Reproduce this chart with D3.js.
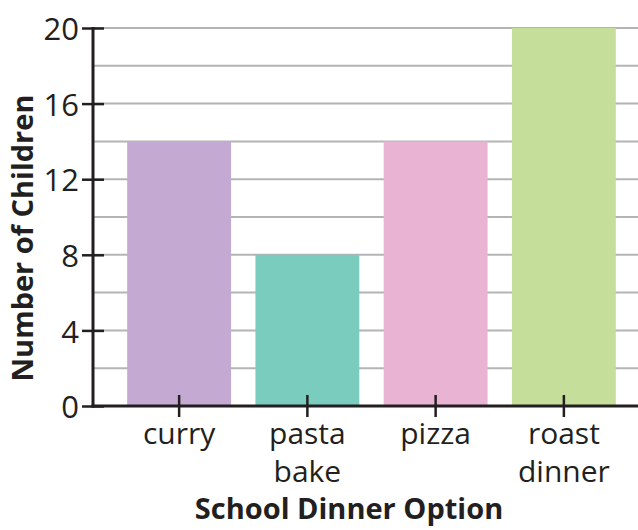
<!DOCTYPE html>
<html><head><meta charset="utf-8">
<script src="https://cdn.jsdelivr.net/npm/d3@7"></script>
<style>body{margin:0;background:#fff}svg{display:block}</style>
</head><body>
<script>
const categories = ["curry", "pasta bake", "pizza", "roast dinner"];
const values = [14, 8, 14, 20];
const colors = ["#c4aad2", "#7accbe", "#e9b3d3", "#c5df9b"];
const yTicks = [0, 4, 8, 12, 16, 20];
const gridValues = [2, 4, 6, 8, 10, 12, 14, 16, 18, 20];

(function () {
const W = 638, H = 530;
const mLeft = 93, mRight = 638, mTop = 28, mBottom = 406;
const svg = d3.select("body").append("svg").attr("width", W).attr("height", H);

const y = d3.scaleLinear().domain([0, 20]).range([mBottom, mTop]);
const x = d3.scaleBand().domain(categories).range([115, 628]).paddingInner(0.19).paddingOuter(0.095);

const font = "'Open Sans', sans-serif";
const ink = "#231f20";

// gridlines
svg.append("g").selectAll("line").data(gridValues).join("line")
  .attr("x1", mLeft).attr("x2", mRight)
  .attr("y1", d => y(d)).attr("y2", d => y(d))
  .attr("stroke", "#b4b4b6").attr("stroke-width", 2);

// bars
svg.append("g").selectAll("rect").data(categories).join("rect")
  .attr("x", d => x(d)).attr("width", x.bandwidth())
  .attr("y", (d, i) => y(values[i])).attr("height", (d, i) => y(0) - y(values[i]))
  .attr("fill", (d, i) => colors[i]);

// y axis
const yAxis = svg.append("g").attr("transform", `translate(${mLeft},0)`)
  .call(d3.axisLeft(y).tickValues(yTicks).tickSize(0).tickPadding(14));
yAxis.select(".domain").remove();
yAxis.selectAll(".tick line").remove();
yAxis.selectAll(".tick").append("line")
  .attr("x1", -11).attr("x2", 11).attr("stroke", ink).attr("stroke-width", 2.5);
yAxis.selectAll(".tick text").attr("font-family", font).attr("font-size", 31)
  .attr("fill", ink).attr("dy", "0.38em");
svg.append("line").attr("x1", mLeft).attr("x2", mLeft).attr("y1", mTop - 1).attr("y2", mBottom + 1.5)
  .attr("stroke", ink).attr("stroke-width", 3);

// x axis
const xAxis = svg.append("g").attr("transform", `translate(0,${mBottom})`)
  .call(d3.axisBottom(x).tickSize(0).tickFormat(""));
xAxis.select(".domain").remove();
xAxis.selectAll(".tick line").remove();
xAxis.selectAll(".tick").append("line")
  .attr("y1", -11).attr("y2", 11).attr("stroke", ink).attr("stroke-width", 2.5);
xAxis.selectAll(".tick").each(function(d) {
  const words = d.split(" ");
  const t = d3.select(this).append("text")
    .attr("font-family", font).attr("font-size", 30).attr("fill", ink)
    .attr("text-anchor", "middle");
  words.forEach((w, i) => t.append("tspan").attr("x", 0).attr("y", 38 + i * 38).text(w));
});
svg.append("line").attr("x1", mLeft - 1.5).attr("x2", mRight).attr("y1", mBottom).attr("y2", mBottom)
  .attr("stroke", ink).attr("stroke-width", 3);

// axis titles
svg.append("text").attr("x", 349).attr("y", 519)
  .attr("text-anchor", "middle").attr("font-family", font).attr("font-weight", "bold")
  .attr("font-size", 29).attr("fill", ink).text("School Dinner Option");
svg.append("text").attr("transform", "translate(33,238) rotate(-90)")
  .attr("text-anchor", "middle").attr("font-family", font).attr("font-weight", "bold")
  .attr("font-size", 29).attr("fill", ink).text("Number of Children");
})();
</script>
</body></html>
